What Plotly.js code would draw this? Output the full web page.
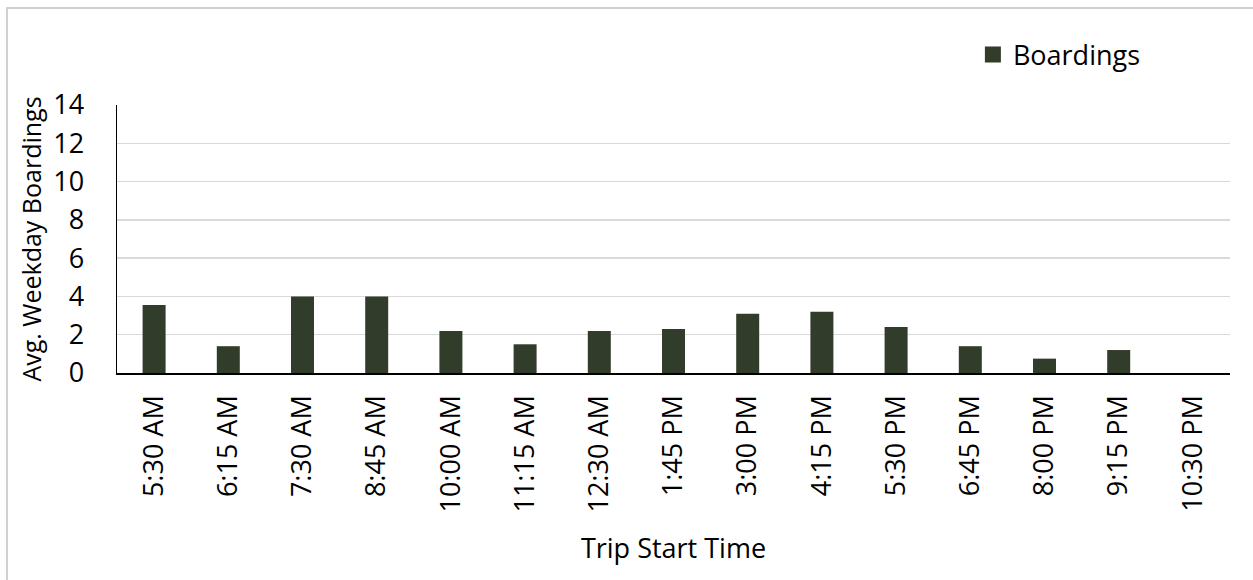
<!DOCTYPE html>
<html>
<head>
<meta charset="utf-8">
<script src="https://cdn.plot.ly/plotly-3.0.1.min.js"></script>
<style>
  html, body { margin: 0; padding: 0; background: #fff; }
  #chart { width: 1253px; height: 580px; }
  #frame { position: absolute; left: 6px; top: 7px; width: 1300px; height: 700px;
           border: 2px solid #d0d0d0; pointer-events: none; }
  #wrap { position: relative; width: 1253px; height: 580px; overflow: hidden; }
</style>
</head>
<body>
<div id="wrap">
  <div id="chart"></div>
  <div id="frame"></div>
</div>
<script>
const categories = ["5:30 AM", "6:15 AM", "7:30 AM", "8:45 AM", "10:00 AM", "11:15 AM", "12:30 AM",
  "1:45 PM", "3:00 PM", "4:15 PM", "5:30 PM", "6:45 PM", "8:00 PM", "9:15 PM", "10:30 PM"];
const boardings = [3.55, 1.4, 4.0, 4.0, 2.2, 1.5, 2.2, 2.3, 3.1, 3.2, 2.4, 1.4, 0.75, 1.2, 0];
const yTicks = [0, 2, 4, 6, 8, 10, 12, 14];
const seriesName = "Boardings";
const xTitle = "Trip Start Time";
const yTitle = "Avg. Weekday Boardings";

const font = "Open Sans, Noto Sans, sans-serif";
const barColor = "#323c2b";

const trace = {
  type: "bar",
  x: categories,
  y: boardings,
  name: seriesName,
  marker: { color: barColor, line: { width: 0 } },
  showlegend: false,
  hoverinfo: "x+y"
};

// legend entry only (larger square swatch like the original)
const legendTrace = {
  type: "scatter",
  mode: "markers",
  x: [categories[0]],
  y: [null],
  name: seriesName,
  marker: { symbol: "square", size: 16, color: barColor },
  showlegend: true,
  hoverinfo: "skip"
};

const layout = {
  width: 1253,
  height: 580,
  margin: { l: 117, r: 23, t: 105, b: 207 },
  paper_bgcolor: "#ffffff",
  plot_bgcolor: "#ffffff",
  font: { family: font, color: "#000000", size: 26 },
  bargap: 0.69,
  showlegend: true,
  legend: {
    x: 0.769, y: 1.187, xanchor: "left", yanchor: "middle",
    font: { family: font, size: 27, color: "#000" },
    bgcolor: "rgba(0,0,0,0)",
    itemsizing: "trace"
  },
  xaxis: {
    type: "category",
    range: [-0.5, categories.length - 0.5],
    tickangle: -90,
    showline: true, linecolor: "#000000", linewidth: 1.5,
    showgrid: false, zeroline: false,
    ticks: "",
    ticklabelstandoff: 10,
    tickfont: { family: font, size: 27, color: "#000" },
    title: { text: xTitle, font: { family: font, size: 27, color: "#000" }, standoff: 27 },
    automargin: false
  },
  yaxis: {
    range: [0, 14],
    tickvals: yTicks,
    ticktext: yTicks.map(String),
    showline: true, linecolor: "#000000", linewidth: 1.5,
    showgrid: true, gridcolor: "#d9d9d9", gridwidth: 1.5,
    zeroline: false,
    ticks: "",
    ticklabelstandoff: 26,
    tickfont: { family: font, size: 27, color: "#000" },
    title: { text: yTitle, font: { family: font, size: 25, color: "#000" }, standoff: 4 },
    automargin: false
  }
};

Plotly.newPlot("chart", [trace, legendTrace], layout, { displayModeBar: false, staticPlot: true });
</script>
</body>
</html>
